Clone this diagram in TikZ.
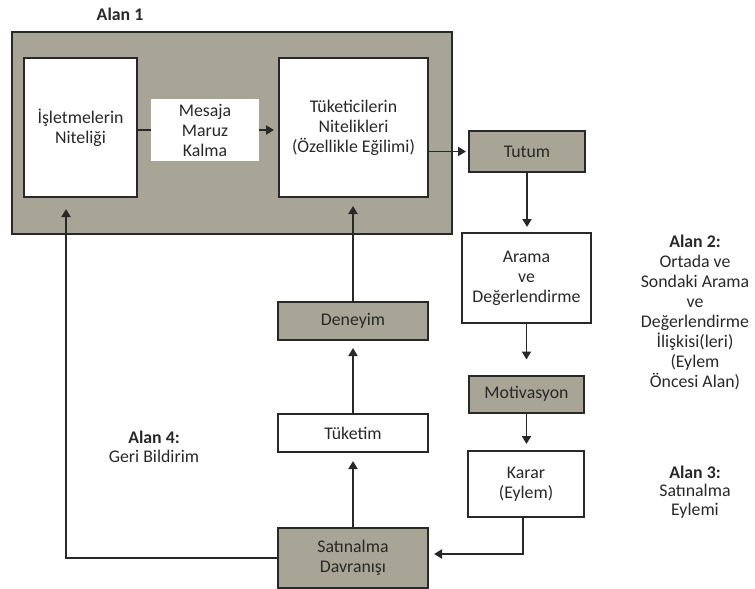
\documentclass[tikz,border=0pt]{standalone}
\usepackage{fontspec}
\setmainfont{Carlito}
\usetikzlibrary{arrows.meta}
\definecolor{panel}{RGB}{168,164,150}
\definecolor{ink}{RGB}{40,40,40}
\begin{document}
\begin{tikzpicture}[x=1pt,y=-1pt,
  every node/.style={font=\fontsize{17.8}{20}\selectfont, text=ink, align=center},
  box/.style={draw=ink, line width=2pt, inner sep=0pt},
  whitebox/.style={box, fill=white},
  graybox/.style={box, fill=panel},
  link/.style={draw=ink, line width=1.9pt},
  flow/.style={link, -{Triangle[length=8pt,width=9pt]}},
  sidetext/.style={font=\fontsize{17.8}{19.5}\selectfont}
]
\useasboundingbox (0,0) rectangle (755,589);

% Area 1 panel
\node[graybox, minimum width=440, minimum height=202] (area1) at (232,133) {};
\node[font=\fontsize{17.8}{20}\selectfont\bfseries] (t1) at (120,14) {Alan 1};

\node[whitebox, minimum width=113, minimum height=139] (isl) at (80.5,127.5) {İşletmelerin\\Niteliği};
\node[fill=white, inner sep=0pt, minimum width=108, minimum height=62] (mes) at (205,130) {Mesaja\\Maruz\\Kalma};
\node[whitebox, minimum width=149, minimum height=139] (tuk) at (353.5,127.5) {Tüketicilerin\\Nitelikleri\\(Özellikle Eğilimi)};

% right column
\node[graybox, minimum width=116, minimum height=41] (tutum) at (527,151.5) {Tutum};
\node[whitebox, minimum width=129, minimum height=90] (arama) at (526.5,278) {Arama\\ve\\Değerlendirme};
\node[graybox, minimum width=115, minimum height=37] (motiv) at (526.5,394) {Motivasyon};
\node[whitebox, minimum width=116, minimum height=66] (karar) at (526,484) {Karar\\(Eylem)};

% middle column
\node[graybox, minimum width=150, minimum height=38] (deneyim) at (353,321) {Deneyim};
\node[whitebox, minimum width=150, minimum height=38] (tuketim) at (353,433) {Tüketim};
\node[graybox, minimum width=150, minimum height=60] (satin) at (353,558) {Satınalma\\Davranışı};

% side labels
\node[sidetext, font=\fontsize{17.8}{20}\selectfont] (a2) at (695,312) {\textbf{Alan 2:}\\Ortada ve\\Sondaki Arama\\ve\\Değerlendirme\\İlişkisi(leri)\\(Eylem\\Öncesi Alan)};
\node[sidetext, font=\fontsize{17.8}{18.5}\selectfont] (a3) at (695,492) {\textbf{Alan 3:}\\Satınalma\\Eylemi};
\node[sidetext] (a4) at (154,447) {\textbf{Alan 4:}\\Geri Bildirim};

% connectors
\draw[link] (isl.east |- mes.west) -- (mes.west);
\draw[flow, shorten >=4pt] (mes.east) -- (mes.east -| tuk.west);
\draw[flow, shorten >=2pt] (tuk.east |- tutum.west) -- (tutum.west);
\draw[flow, shorten >=5pt] (tutum.south) -- (tutum.south |- arama.north);
\draw[flow, shorten >=15pt] (arama.south) -- (arama.south |- motiv.north);
\draw[flow, shorten >=6pt] (motiv.south) -- (motiv.south |- karar.north);
\coordinate (kb) at (523,554);
\draw[flow, shorten >=5pt] (karar.south -| kb) -- (kb) -- (kb -| satin.east);
\draw[flow, shorten >=8pt] (satin.north) -- (tuketim.south);
\draw[flow, shorten >=7pt] (tuketim.north) -- (deneyim.south);
\draw[flow, shorten >=8pt] (deneyim.north) -- (deneyim.north |- tuk.south);
\coordinate (fb) at (66,558);
\draw[flow, shorten >=11pt] (satin.west) -- (fb) -- (fb |- isl.south);
\end{tikzpicture}
\end{document}
